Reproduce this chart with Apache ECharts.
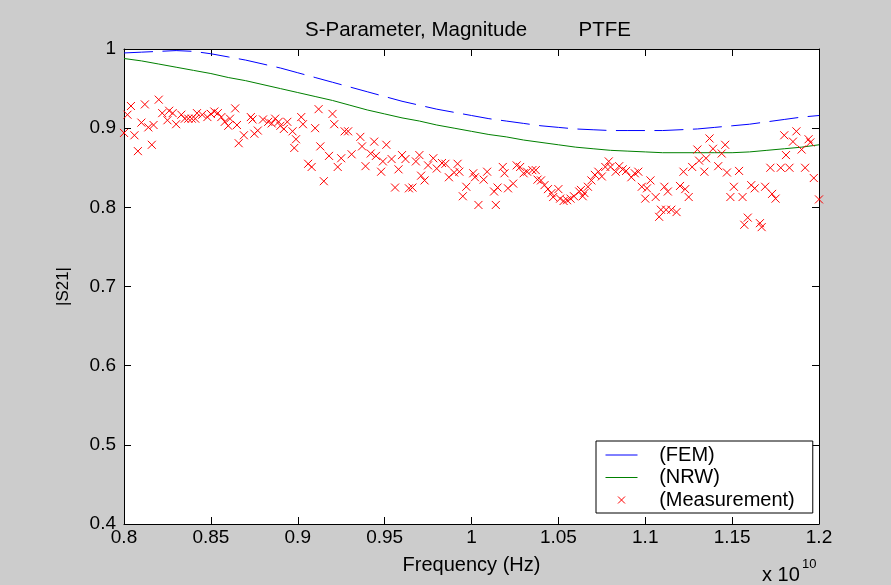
<!DOCTYPE html>
<html>
<head>
<meta charset="utf-8">
<script src="https://cdn.jsdelivr.net/npm/echarts@6/dist/echarts.min.js"></script>
<style>html,body{margin:0;padding:0;background:#cccccc}#c{width:891px;height:585px}</style>
</head>
<body>
<div id="c"></div>
<script>
// ---- data (frequency in units of 1e10 Hz) ----
const xTickLabels = ['0.8','0.85','0.9','0.95','1','1.05','1.1','1.15','1.2'];
const yTickLabels = ['0.4','0.5','0.6','0.7','0.8','0.9','1'];
const modelFreq = [0.80,0.81,0.82,0.83,0.84,0.85,0.86,0.87,0.88,0.89,0.90,0.91,0.92,0.93,0.94,0.95,0.96,0.97,0.98,0.99,1.00,1.01,1.02,1.03,1.04,1.05,1.06,1.07,1.08,1.09,1.10,1.11,1.12,1.13,1.14,1.15,1.16,1.17,1.18,1.19,1.20];
const femS21 = [0.995,0.996,0.997,0.998,0.997,0.994,0.990,0.986,0.981,0.976,0.970,0.964,0.958,0.952,0.946,0.940,0.934,0.929,0.924,0.920,0.916,0.912,0.909,0.906,0.903,0.901,0.899,0.898,0.897,0.897,0.897,0.897,0.898,0.899,0.901,0.903,0.905,0.908,0.911,0.914,0.916];
const nrwS21 = [0.988,0.985,0.981,0.977,0.973,0.969,0.964,0.960,0.955,0.950,0.945,0.940,0.935,0.929,0.923,0.918,0.913,0.909,0.904,0.900,0.896,0.892,0.889,0.885,0.882,0.879,0.876,0.874,0.872,0.871,0.870,0.869,0.869,0.869,0.869,0.869,0.870,0.872,0.874,0.876,0.879];
const measFreq = [
0.800,0.802,0.804,0.806,0.808,0.810,0.812,0.814,0.816,0.817,0.820,0.822,0.825,0.826,0.828,0.830,0.833,0.835,0.837,0.839,0.841,0.842,0.845,0.848,0.850,0.852,0.854,0.856,0.858,0.860,0.861,0.864,0.865,0.866,
0.869,0.873,0.874,0.875,0.877,0.880,0.883,0.885,0.887,0.889,0.890,0.892,0.894,0.897,0.899,0.898,0.902,0.903,0.910,0.912,0.913,0.906,0.908,0.915,0.918,0.920,0.921,0.925,0.923,0.927,0.929,0.931,
0.936,0.937,0.944,0.951,0.939,0.942,0.945,0.949,0.948,0.954,0.958,0.956,0.960,0.962,0.964,0.966,0.968,0.970,0.971,0.973,0.975,0.978,0.980,0.983,0.985,0.987,0.990,0.992,0.993,0.997,0.995,
1.001,1.002,1.007,1.009,1.004,1.014,1.013,1.015,1.018,1.019,1.021,1.024,1.026,1.028,1.030,1.032,1.035,1.037,1.038,1.040,1.042,1.044,1.046,1.047,1.050,1.051,1.053,1.055,1.057,1.059,1.062,1.063,1.064,
1.065,1.067,1.069,1.071,1.073,1.075,1.077,1.079,1.080,1.083,1.085,1.087,1.089,1.092,1.094,1.096,1.098,1.100,1.101,1.103,1.106,1.109,1.108,1.112,1.115,1.118,1.111,1.113,1.120,1.123,1.125,1.122,1.127,1.130,1.131,
1.134,1.135,1.137,1.139,1.142,1.144,1.146,1.147,1.154,1.151,1.149,1.156,1.159,1.157,1.161,1.163,1.166,1.167,1.169,1.172,1.173,1.175,1.178,1.183,1.180,1.181,1.185,1.187,1.190,1.192,1.194,1.195,1.197,1.200];
const measS21 = [
0.894,0.917,0.928,0.891,0.871,0.907,0.930,0.901,0.879,0.904,0.936,0.919,0.910,0.922,0.919,0.905,0.917,0.912,0.912,0.912,0.912,0.919,0.917,0.914,0.918,0.921,0.919,0.914,0.908,0.903,0.912,0.925,0.904,0.881,
0.891,0.914,0.911,0.893,0.897,0.911,0.908,0.906,0.912,0.908,0.903,0.899,0.908,0.896,0.886,0.875,0.914,0.905,0.900,0.924,0.877,0.855,0.851,0.833,0.865,0.918,0.905,0.862,0.851,0.896,0.896,0.867,
0.889,0.877,0.883,0.879,0.852,0.868,0.865,0.858,0.845,0.861,0.848,0.825,0.866,0.861,0.824,0.825,0.858,0.866,0.840,0.834,0.853,0.862,0.849,0.856,0.855,0.838,0.844,0.855,0.845,0.826,0.814,
0.843,0.838,0.835,0.845,0.803,0.803,0.820,0.825,0.851,0.843,0.824,0.830,0.853,0.851,0.843,0.845,0.847,0.847,0.835,0.834,0.828,0.823,0.818,0.813,0.823,0.811,0.808,0.809,0.811,0.814,0.820,0.822,0.814,
0.818,0.826,0.834,0.841,0.845,0.839,0.851,0.858,0.851,0.845,0.852,0.848,0.846,0.838,0.843,0.845,0.826,0.811,0.824,0.834,0.813,0.797,0.788,0.797,0.797,0.794,0.826,0.820,0.827,0.823,0.813,0.845,0.851,0.873,0.859,
0.845,0.862,0.887,0.874,0.852,0.868,0.879,0.844,0.846,0.826,0.813,0.813,0.787,0.778,0.828,0.824,0.780,0.775,0.826,0.850,0.817,0.811,0.850,0.850,0.891,0.866,0.883,0.896,0.873,0.850,0.886,0.882,0.837,0.810];

const FONT = "'Liberation Sans', Arial, Helvetica, sans-serif";
const chart = echarts.init(document.getElementById('c'), null, {renderer: 'canvas'});

function baseAxis(extra) {
  return Object.assign({
    type: 'value',
    axisLine: {show: true, onZero: false, lineStyle: {color: '#000', width: 1}},
    axisTick: {show: true, inside: true, length: 7, lineStyle: {color: '#000', width: 1}},
    splitLine: {show: false},
    minorTick: {show: false}
  }, extra);
}

const option = {
  backgroundColor: '#cccccc',
  animation: false,
  title: {
    text: 'S-Parameter, Magnitude         PTFE',
    left: 305, top: 20, padding: 0,
    textStyle: {fontSize: 20.5, fontWeight: 'normal', color: '#000', fontFamily: FONT}
  },
  grid: {left: 124, right: 72, top: 49, bottom: 61, show: true, backgroundColor: '#ffffff', borderWidth: 0, containLabel: false, outerBoundsMode: 'none'},
  legend: {
    orient: 'vertical', left: 596, top: 441,
    padding: [4, 18, 3, 9],
    itemWidth: 32, itemHeight: 7, itemGap: 2.5,
    backgroundColor: '#ffffff', borderColor: '#000', borderWidth: 1, borderRadius: 0,
    selectedMode: false,
    textStyle: {fontSize: 20, lineHeight: 20, color: '#000', fontFamily: FONT},
    formatter: n => '   ' + n,
    data: [
      {name: '(FEM)', itemStyle: {opacity: 0}, lineStyle: {color: '#0000ff', width: 1, type: 'solid'}},
      {name: '(NRW)', itemStyle: {opacity: 0}, lineStyle: {color: '#008000', width: 1, type: 'solid'}},
      {name: '(Measurement)', itemStyle: {color: 'transparent', borderColor: '#ff0000', borderWidth: 1}}
    ]
  },
  xAxis: [
    baseAxis({
      position: 'bottom', min: 0.8, max: 1.2, interval: 0.05,
      axisLabel: {show: true, margin: 4, fontSize: 19, color: '#000', fontFamily: FONT,
        showMinLabel: true, showMaxLabel: true, hideOverlap: false,
        formatter: v => xTickLabels[Math.round((v - 0.8) / 0.05)]},
      name: 'Frequency (Hz)', nameLocation: 'middle', nameGap: 31,
      nameTextStyle: {fontSize: 20, color: '#000', fontFamily: FONT}
    }),
    baseAxis({position: 'top', min: 0.8, max: 1.2, interval: 0.05, axisLabel: {show: false}})
  ],
  yAxis: [
    baseAxis({
      position: 'left', min: 0.4, max: 1, interval: 0.1,
      axisLabel: {show: true, margin: 8, fontSize: 19, color: '#000', fontFamily: FONT,
        showMinLabel: true, showMaxLabel: true, hideOverlap: false,
        formatter: v => yTickLabels[Math.round((v - 0.4) / 0.1)]},
      name: '|S21|', nameLocation: 'middle', nameGap: 52, nameRotate: 90,
      nameTextStyle: {fontSize: 17, color: '#000', fontFamily: FONT}
    }),
    baseAxis({position: 'right', min: 0.4, max: 1, interval: 0.1, axisLabel: {show: false}})
  ],
  series: [
    {
      name: '(FEM)', type: 'line', xAxisIndex: 0, yAxisIndex: 0,
      data: modelFreq.map((f, i) => [f, femS21[i]]),
      symbol: 'none', showSymbol: false, silent: true,
      itemStyle: {color: '#0000ff'},
      lineStyle: {color: '#0000ff', width: 1, type: [29, 9.5]},
      z: 2
    },
    {
      name: '(NRW)', type: 'line', xAxisIndex: 0, yAxisIndex: 0,
      data: modelFreq.map((f, i) => [f, nrwS21[i]]),
      symbol: 'none', showSymbol: false, silent: true,
      itemStyle: {color: '#008000'},
      lineStyle: {color: '#008000', width: 1},
      z: 2
    },
    {
      name: '(Measurement)', type: 'scatter', xAxisIndex: 0, yAxisIndex: 0,
      data: measFreq.map((f, i) => [f, measS21[i]]),
      symbol: 'path://M0,0L10,10M10,0L0,10', symbolSize: 8, silent: true,
      itemStyle: {color: 'transparent', borderColor: '#ff0000', borderWidth: 1, opacity: 1},
      emphasis: {disabled: true},
      z: 3
    }
  ],
  graphic: [
    {type: 'text', left: 762, top: 565, silent: true,
      style: {text: 'x 10', fontSize: 20, fill: '#000', fontFamily: FONT}},
    {type: 'text', left: 802, top: 558, silent: true,
      style: {text: '10', fontSize: 13, fill: '#000', fontFamily: FONT}}
  ]
};
chart.setOption(option);
</script>
</body>
</html>
